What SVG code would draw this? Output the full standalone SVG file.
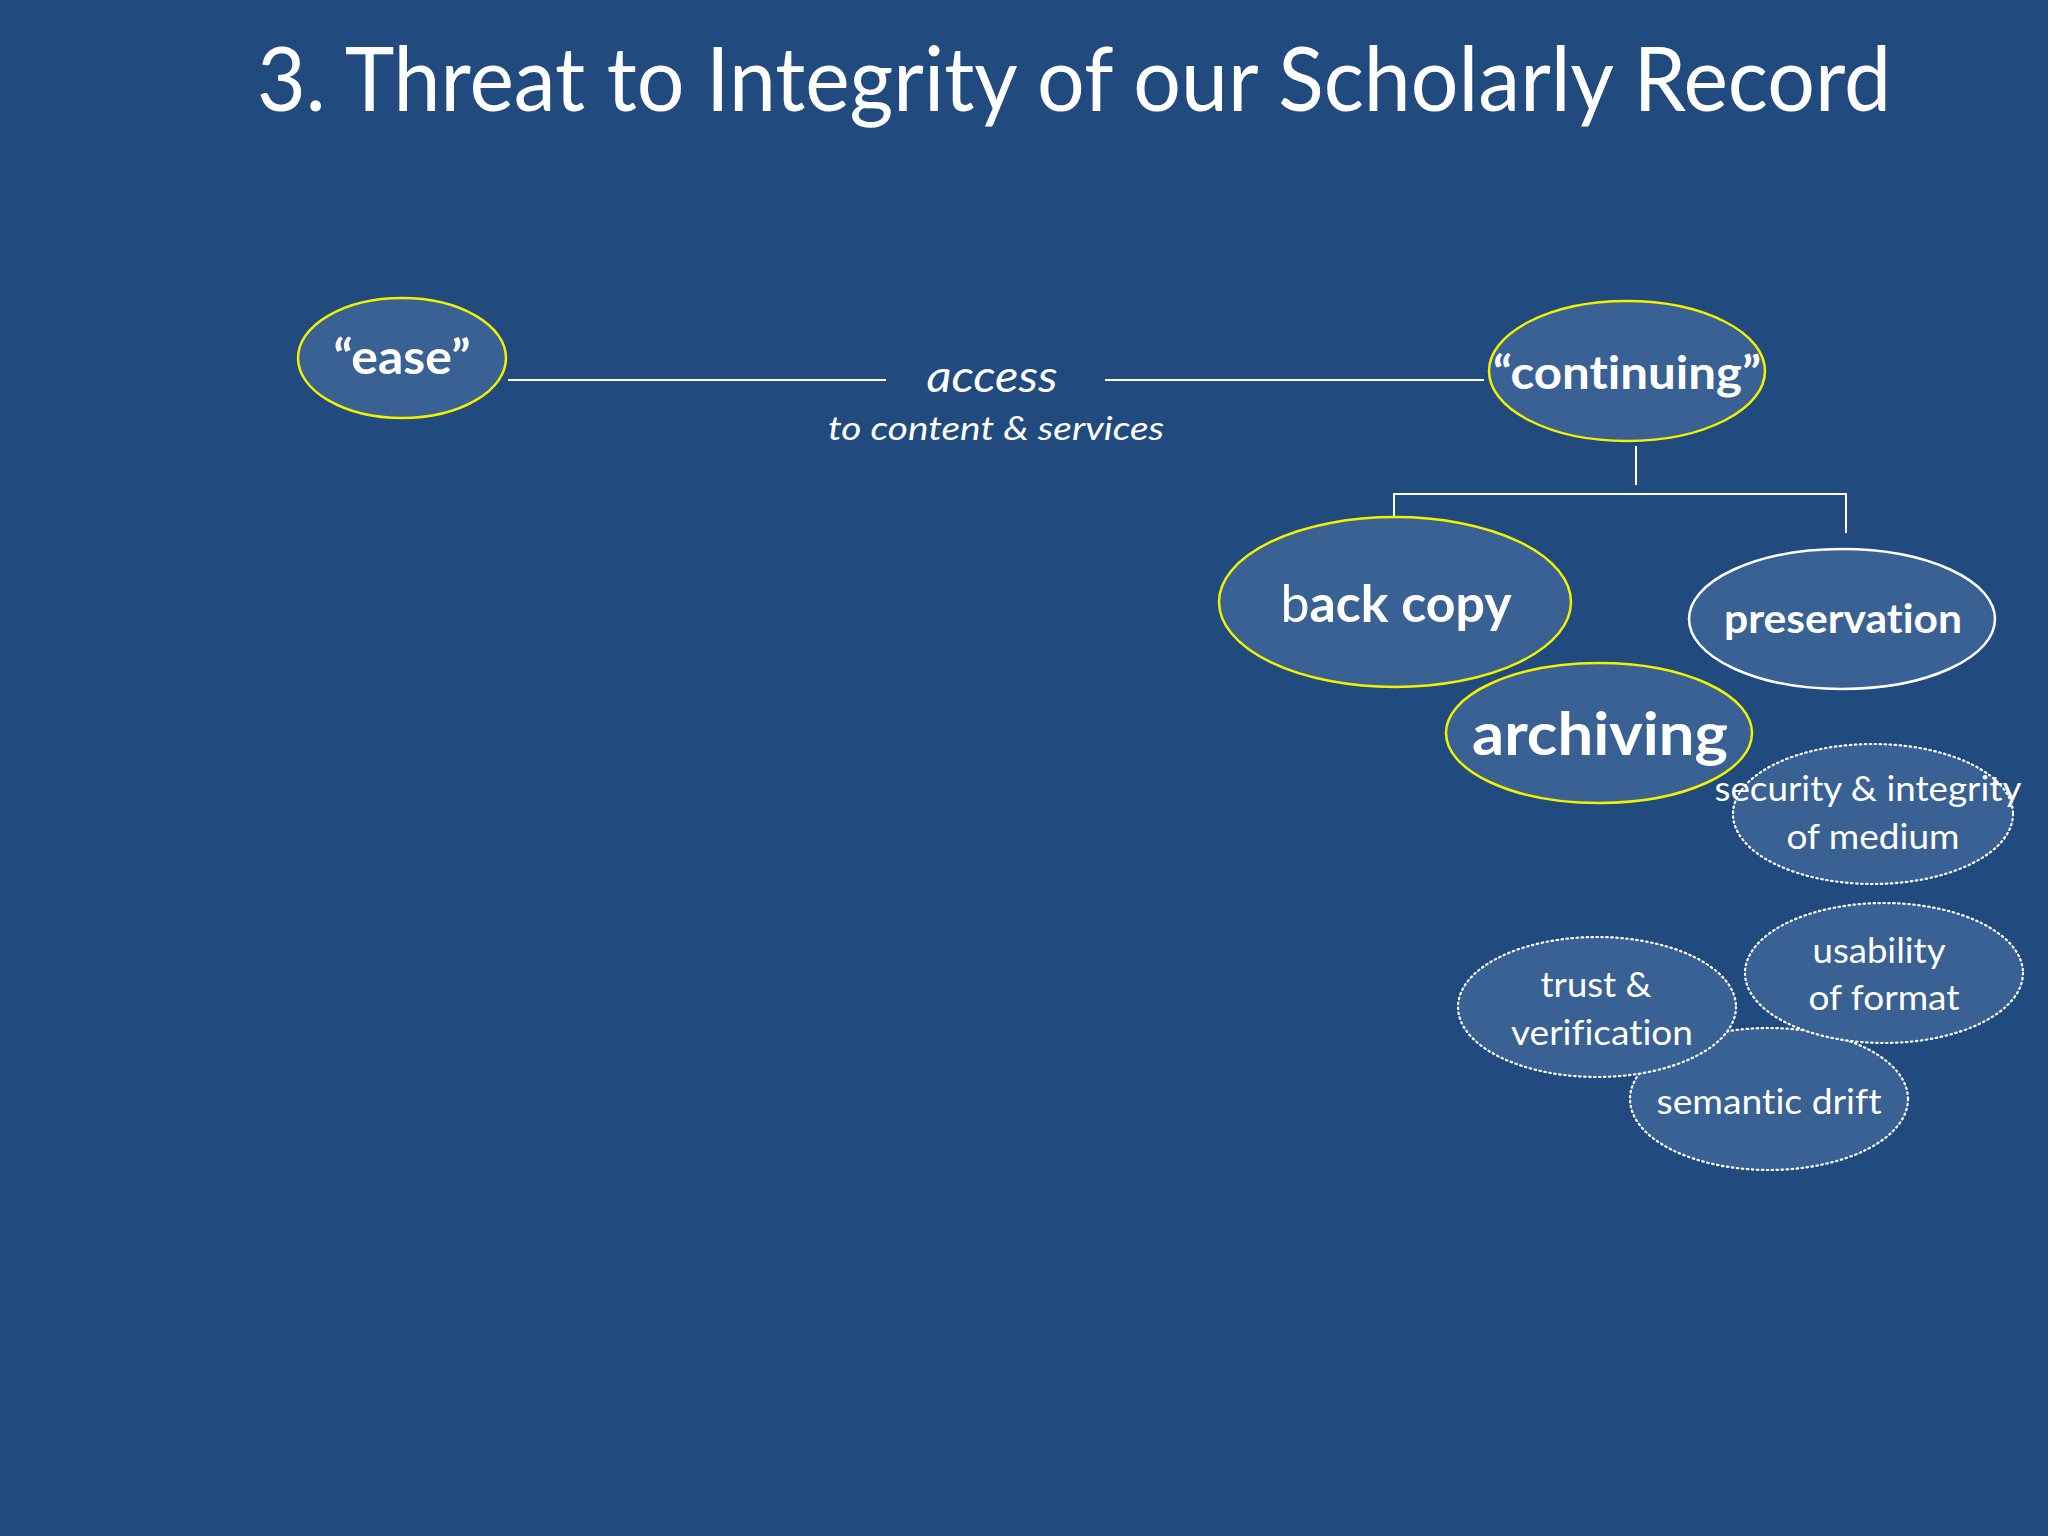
<svg xmlns="http://www.w3.org/2000/svg" width="2048" height="1536" viewBox="0 0 2048 1536">
<style>
text{font-family:Lato,"Open Sans","Liberation Sans",sans-serif;fill:#ffffff;text-anchor:middle;font-variant-ligatures:none;font-feature-settings:"liga" 0}
.b{font-weight:bold}
.i{font-style:italic}
.n{fill:#3a6193}
.y{stroke:#f2f200;stroke-width:2.5}
.w{stroke:#ffffff;stroke-width:2.5}
.d{stroke:#ffffff;stroke-width:2.2;stroke-dasharray:1.5 3.5;stroke-linecap:round}
.ln{stroke:#ffffff;stroke-width:2;fill:none}
</style>
<rect width="2048" height="1536" fill="#214a7e"/>
<text x="1074" y="111" font-size="89" textLength="1634" lengthAdjust="spacingAndGlyphs">3. Threat to Integrity of our Scholarly Record</text>
<g id="connectors">
<line class="ln" x1="508" y1="380" x2="886" y2="380"/>
<line class="ln" x1="1105" y1="380" x2="1484" y2="380"/>
<line class="ln" x1="1636" y1="446" x2="1636" y2="485"/>
<polyline class="ln" points="1394,517 1394,494 1846,494 1846,533"/>
</g>
<g id="access-label">
<text class="i" x="992" y="392" font-size="45" textLength="131" lengthAdjust="spacingAndGlyphs">access</text>
<text class="i" x="996" y="440" font-size="33" textLength="336" lengthAdjust="spacingAndGlyphs">to content &amp; services</text>
</g>
<g id="ease">
<ellipse class="n y" cx="402" cy="358" rx="104" ry="60"/>
<text class="b" x="402" y="374" font-size="47" textLength="137" lengthAdjust="spacingAndGlyphs">“ease”</text>
</g>
<g id="continuing">
<ellipse class="n y" cx="1627" cy="371" rx="138" ry="70"/>
<text class="b" x="1627" y="389" font-size="45" textLength="268" lengthAdjust="spacingAndGlyphs">“continuing”</text>
</g>
<g id="backcopy">
<ellipse class="n y" cx="1395" cy="602" rx="176" ry="85"/>
<text class="b" x="1396" y="622" font-size="52" textLength="231" lengthAdjust="spacingAndGlyphs"><tspan font-weight="normal">b</tspan>ack copy</text>
</g>
<g id="preservation">
<ellipse class="n w" cx="1842" cy="619" rx="153" ry="70"/>
<text class="b" x="1843" y="633" font-size="41" textLength="238" lengthAdjust="spacingAndGlyphs">preservation</text>
</g>
<g id="archiving">
<ellipse class="n y" cx="1599" cy="733" rx="153" ry="70"/>
<text class="b" x="1600" y="755" font-size="60" textLength="256" lengthAdjust="spacingAndGlyphs">archiving</text>
</g>
<g id="security">
<ellipse class="n d" cx="1873" cy="814" rx="140" ry="70"/>
<text x="1868" y="801" font-size="35" textLength="307" lengthAdjust="spacingAndGlyphs">security &amp; integrity</text>
<text x="1873" y="849" font-size="35" textLength="173" lengthAdjust="spacingAndGlyphs">of medium</text>
</g>
<g id="semantic">
<ellipse class="n d" cx="1769" cy="1099" rx="139" ry="71"/>
<text x="1769" y="1114" font-size="35" textLength="225" lengthAdjust="spacingAndGlyphs">semantic drift</text>
</g>
<g id="trust">
<ellipse class="n d" cx="1597" cy="1007" rx="139" ry="70"/>
<text x="1596" y="997" font-size="35" textLength="111" lengthAdjust="spacingAndGlyphs">trust &amp;</text>
<text x="1602" y="1045" font-size="35" textLength="182" lengthAdjust="spacingAndGlyphs">verification</text>
</g>
<g id="usability">
<ellipse class="n d" cx="1884" cy="973" rx="139" ry="70"/>
<text x="1879" y="963" font-size="35" textLength="133" lengthAdjust="spacingAndGlyphs">usability</text>
<text x="1884" y="1010" font-size="35" textLength="151" lengthAdjust="spacingAndGlyphs">of format</text>
</g>
</svg>
